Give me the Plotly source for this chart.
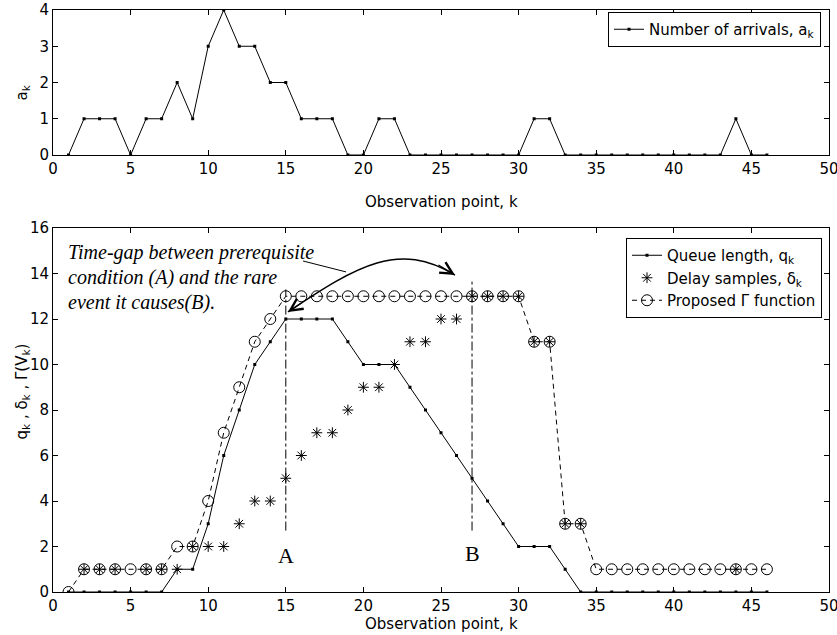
import plotly.graph_objects as go

# ---------------- data ----------------
k_obs = list(range(1, 47))
arrivals = [0, 1, 1, 1, 0, 1, 1, 2, 1, 3, 4, 3, 3, 2, 2, 1, 1, 1, 0, 0, 1, 1, 0, 0, 0, 0, 0, 0, 0, 0,
            1, 1, 0, 0, 0, 0, 0, 0, 0, 0, 0, 0, 0, 1, 0, 0]
queue = [0, 0, 0, 0, 0, 0, 0, 1, 1, 3, 6, 8, 10, 11, 12, 12, 12, 12, 11, 10, 10, 10, 9, 8, 7, 6, 5, 4, 3, 2,
         2, 2, 1, 0, 0, 0, 0, 0, 0, 0, 0, 0, 0, 0, 0, 0]
delay_k = [2, 3, 4, 6, 7, 8, 9, 10, 11, 12, 13, 14, 15, 16, 17, 18, 19, 20, 21, 22, 23, 24, 25, 26, 27,
           28, 29, 30, 31, 32, 33, 34, 44]
delay = [1, 1, 1, 1, 1, 1, 2, 2, 2, 3, 4, 4, 5, 6, 7, 7, 8, 9, 9, 10, 11, 11, 12, 12, 13, 13, 13, 13,
         11, 11, 3, 3, 1]
gamma = [0, 1, 1, 1, 1, 1, 1, 2, 2, 4, 7, 9, 11, 12, 13, 13, 13, 13, 13, 13, 13, 13, 13, 13, 13, 13, 13,
         13, 13, 13, 11, 11, 3, 3, 1, 1, 1, 1, 1, 1, 1, 1, 1, 1, 1, 1]
x_ticks = [0, 5, 10, 15, 20, 25, 30, 35, 40, 45, 50]
event_A_k = 15
event_B_k = 27

W, H = 837, 635
FONT = "DejaVu Sans, Liberation Sans, Arial, sans-serif"
SERIF = "Liberation Serif, Times New Roman, serif"
FS = 15


def px_x(p):
    return p / W


def px_y(p):
    return 1 - p / H


fig = go.Figure()

fig.add_trace(go.Scatter(
    x=k_obs, y=arrivals, mode="lines+markers", name="Number of arrivals, a<sub>k</sub>",
    line=dict(color="black", width=1), marker=dict(symbol="square", size=3, color="black"),
    xaxis="x", yaxis="y", legend="legend"))

fig.add_trace(go.Scatter(
    x=k_obs, y=queue, mode="lines+markers", name="Queue length, q<sub>k</sub>",
    line=dict(color="black", width=1), marker=dict(symbol="square", size=3, color="black"),
    xaxis="x2", yaxis="y2", legend="legend2"))
fig.add_trace(go.Scatter(
    x=delay_k, y=delay, mode="markers", name="Delay samples, δ<sub>k</sub>",
    marker=dict(symbol="asterisk-open", size=9, color="black", line=dict(color="black", width=1)),
    xaxis="x2", yaxis="y2", legend="legend2"))
fig.add_trace(go.Scatter(
    x=k_obs, y=gamma, mode="lines+markers", name="Proposed Γ function",
    line=dict(color="black", width=1, dash="5px,4px"),
    marker=dict(symbol="circle-open", size=11, color="black", line=dict(color="black", width=1)),
    xaxis="x2", yaxis="y2", legend="legend2"))

xdom = [px_x(53), px_x(829)]
axis_common = dict(showline=True, linecolor="black", linewidth=1, mirror="ticks", ticks="inside",
                   ticklen=5, tickcolor="black", tickwidth=1, showgrid=False, zeroline=False,
                   ticklabeloverflow="allow",
                   tickfont=dict(family=FONT, size=FS, color="black"), automargin=False)

fig.update_layout(
    width=W, height=H, margin=dict(l=0, r=0, t=0, b=0),
    paper_bgcolor="white", plot_bgcolor="white", font=dict(family=FONT, size=FS, color="black"),
    xaxis=dict(domain=xdom, range=[0, 50], tickvals=x_ticks, anchor="y", **axis_common),
    yaxis=dict(domain=[px_y(155), px_y(10)], range=[0, 4], tickvals=[0, 1, 2, 3, 4], anchor="x",
               **axis_common),
    xaxis2=dict(domain=xdom, range=[0, 50], tickvals=x_ticks, anchor="y2", **axis_common),
    yaxis2=dict(domain=[px_y(592), px_y(228)], range=[0, 16], tickvals=list(range(0, 17, 2)),
                anchor="x2", **axis_common),
    legend=dict(x=px_x(821), y=px_y(12), xanchor="right", yanchor="top", bgcolor="white",
                bordercolor="black", borderwidth=1, font=dict(family=FONT, size=FS, color="black")),
    legend2=dict(x=px_x(822), y=px_y(238), xanchor="right", yanchor="top", bgcolor="white",
                 bordercolor="black", borderwidth=1, font=dict(family=FONT, size=FS, color="black"),
                 tracegroupgap=0),
    showlegend=True,
)

annotations = []
# axis titles
annotations.append(dict(text="Observation point, k", x=0.5 * (xdom[0] + xdom[1]), y=px_y(191),
                        xref="paper", yref="paper", showarrow=False, font=dict(size=FS)))
annotations.append(dict(text="Observation point, k", x=0.5 * (xdom[0] + xdom[1]), y=0,
                        xref="paper", yref="paper", yanchor="bottom", showarrow=False, font=dict(size=FS)))
annotations.append(dict(text="a<sub>k</sub>", x=px_x(10), y=px_y(83), xref="paper", yref="paper",
                        showarrow=False, textangle=-90, font=dict(size=FS)))
annotations.append(dict(text="q<sub>k</sub> , δ<sub>k</sub> , Γ(V<sub>k</sub>)", x=px_x(10), y=px_y(442),
                        xref="paper", yref="paper", showarrow=False, textangle=-90, font=dict(size=FS)))
# explanatory text
for line, ypx in [("Time-gap between prerequisite", 252), ("condition (A) and the rare", 277),
                  ("event it causes(B).", 302)]:
    annotations.append(dict(text="<i>" + line + "</i>", x=px_x(66), y=px_y(ypx), xref="paper",
                            yref="paper", xanchor="left", showarrow=False,
                            font=dict(family=SERIF, size=20)))
annotations.append(dict(text="A", x=event_A_k, y=1.6, xref="x2", yref="y2", showarrow=False,
                        font=dict(family=SERIF, size=22)))
annotations.append(dict(text="B", x=event_B_k, y=1.7, xref="x2", yref="y2", showarrow=False,
                        font=dict(family=SERIF, size=22)))
# arrowheads of the curved arrow
annotations.append(dict(text="", x=15.14, y=12.31, xref="x2", yref="y2", ax=15, ay=-10, showarrow=True,
                        arrowhead=5, arrowsize=2, arrowwidth=1.2, arrowcolor="black"))
annotations.append(dict(text="", x=25.9, y=13.93, xref="x2", yref="y2", ax=-18, ay=-11, showarrow=True,
                        arrowhead=5, arrowsize=2, arrowwidth=1.2, arrowcolor="black"))
fig.update_layout(annotations=annotations)

shapes = [
    dict(type="line", xref="x2", yref="y2", x0=event_A_k, x1=event_A_k, y0=2.7, y1=13.3,
         line=dict(color="black", width=1, dash="dashdot")),
    dict(type="line", xref="x2", yref="y2", x0=event_B_k, x1=event_B_k, y0=2.7, y1=13.7,
         line=dict(color="black", width=1, dash="dashdot")),
    dict(type="line", xref="x2", yref="y2", x0=16.11, x1=18.88, y0=14.55, y1=14.07,
         line=dict(color="black", width=1)),
    dict(type="path", xref="x2", yref="y2",
         path="M 15.14,12.31 C 19.69,14.40 22.30,15.42 25.90,13.93",
         line=dict(color="black", width=1.5)),
]
fig.update_layout(shapes=shapes)

fig.write_html("out.html", config={"displayModeBar": False},
               post_script="document.body.style.margin='0';document.body.style.padding='0';"
                           "document.body.style.overflow='hidden';")
